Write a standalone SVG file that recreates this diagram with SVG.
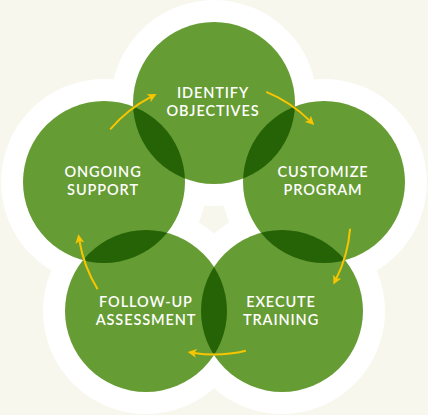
<svg xmlns="http://www.w3.org/2000/svg" width="428" height="415" viewBox="0 0 428 415">
  <style>
    .halo { fill: #ffffff; }
    .node { fill: #669c34; }
    .lens { fill: #266306; }
    .label { fill: #ffffff; font-family: Lato, "Open Sans", "Liberation Sans", sans-serif; font-size: 14.5px; font-weight: 600; letter-spacing: 0.9px; text-anchor: middle; }
    .arrow { fill: none; stroke: #f7c600; stroke-width: 2; marker-end: url(#head); }
  </style>
  <defs>
    <marker id="head" markerUnits="userSpaceOnUse" markerWidth="9" markerHeight="9" viewBox="0 0 10 10" refX="3" refY="5" orient="auto">
      <path d="M0,0 L10,5 L0,10 L2.5,5 z" fill="#f7c600"/>
    </marker>
    <clipPath id="cTop"><circle cx="214" cy="103" r="81"/></clipPath>
    <clipPath id="cRight"><circle cx="324" cy="182" r="81"/></clipPath>
    <clipPath id="cBR"><circle cx="282" cy="311" r="81"/></clipPath>
    <clipPath id="cBL"><circle cx="146" cy="311" r="81"/></clipPath>
    <clipPath id="cLeft"><circle cx="104" cy="182" r="81"/></clipPath>
  </defs>
  <rect width="428" height="415" fill="#f7f7ed"/>
  <g id="halo">
    <circle class="halo" cx="214" cy="103" r="103"/>
    <circle class="halo" cx="324" cy="182" r="103"/>
    <circle class="halo" cx="282" cy="311" r="103"/>
    <circle class="halo" cx="146" cy="311" r="103"/>
    <circle class="halo" cx="104" cy="182" r="103"/>
  </g>
  <g id="identify-objectives">
    <circle class="node" cx="214" cy="103" r="81"/>
  </g>
  <g id="customize-program">
    <circle class="node" cx="324" cy="182" r="81"/>
  </g>
  <g id="execute-training">
    <circle class="node" cx="282" cy="311" r="81"/>
  </g>
  <g id="follow-up-assessment">
    <circle class="node" cx="146" cy="311" r="81"/>
  </g>
  <g id="ongoing-support">
    <circle class="node" cx="104" cy="182" r="81"/>
  </g>
  <g id="overlaps">
    <circle class="lens" cx="324" cy="182" r="81" clip-path="url(#cTop)"/>
    <circle class="lens" cx="282" cy="311" r="81" clip-path="url(#cRight)"/>
    <circle class="lens" cx="146" cy="311" r="81" clip-path="url(#cBR)"/>
    <circle class="lens" cx="104" cy="182" r="81" clip-path="url(#cBL)"/>
    <circle class="lens" cx="214" cy="103" r="81" clip-path="url(#cLeft)"/>
  </g>
  <g id="labels">
    <text class="label" x="213" y="98">IDENTIFY</text>
    <text class="label" x="213" y="116">OBJECTIVES</text>
    <text class="label" x="323" y="177">CUSTOMIZE</text>
    <text class="label" x="323" y="195">PROGRAM</text>
    <text class="label" x="281" y="306.5">EXECUTE</text>
    <text class="label" x="281" y="324.5">TRAINING</text>
    <text class="label" x="146" y="306.5">FOLLOW-UP</text>
    <text class="label" x="146" y="324.5">ASSESSMENT</text>
    <text class="label" x="103" y="177">ONGOING</text>
    <text class="label" x="103" y="195">SUPPORT</text>
  </g>
  <g id="connectors">
    <path class="arrow" d="M266.24,91.89 A136.5,136.5 0 0 1 309.67,120.63"/>
    <path class="arrow" d="M350.08,228.71 A136.5,136.5 0 0 1 336.16,278.91"/>
    <path class="arrow" d="M245.87,350.73 A136.5,136.5 0 0 1 193.82,353.0"/>
    <path class="arrow" d="M97.61,289.32 A136.5,136.5 0 0 1 79.37,240.53"/>
    <path class="arrow" d="M110.20,129.35 A136.5,136.5 0 0 1 150.97,96.92"/>
  </g>
</svg>
